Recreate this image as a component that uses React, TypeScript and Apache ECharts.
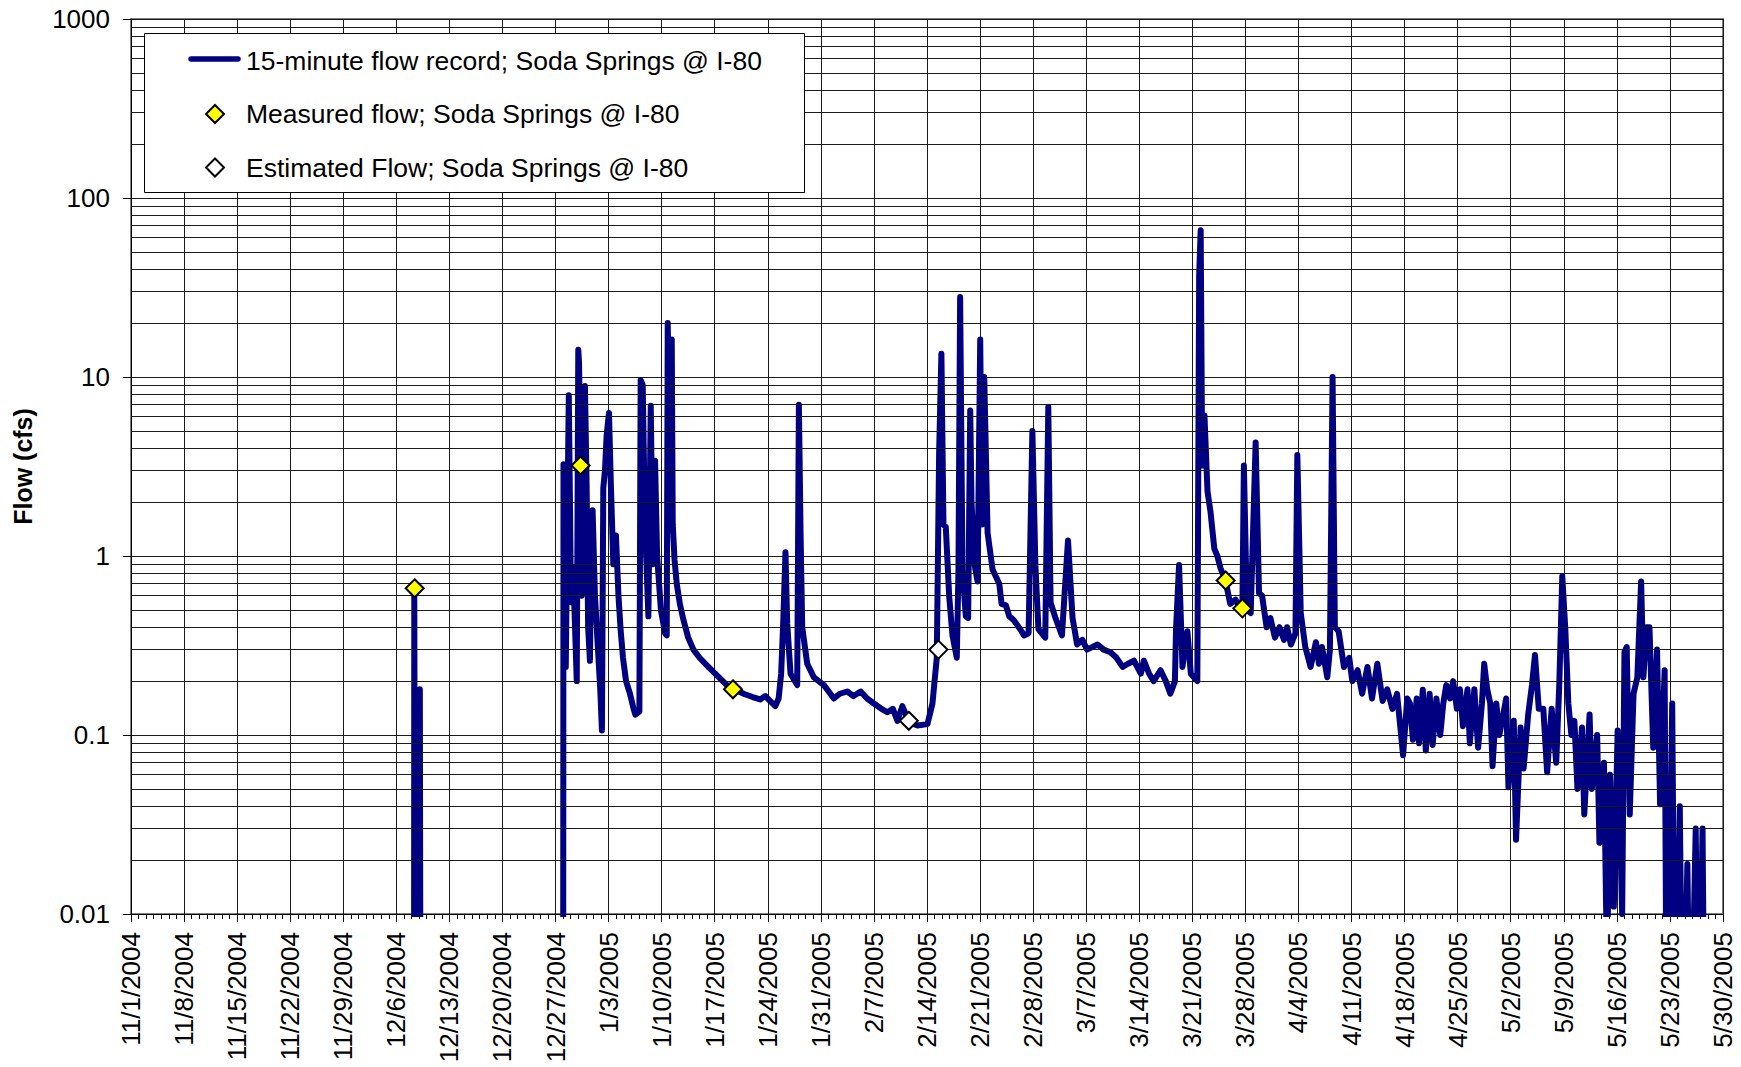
import React, { useEffect, useRef } from "react";
import * as echarts from "echarts";

// x values are days since 11/1/2004 (fractional = time of day)
const dateTickLabels = [
  "11/1/2004", "11/8/2004", "11/15/2004", "11/22/2004", "11/29/2004", "12/6/2004", "12/13/2004",
  "12/20/2004", "12/27/2004", "1/3/2005", "1/10/2005", "1/17/2005", "1/24/2005", "1/31/2005",
  "2/7/2005", "2/14/2005", "2/21/2005", "2/28/2005", "3/7/2005", "3/14/2005", "3/21/2005",
  "3/28/2005", "4/4/2005", "4/11/2005", "4/18/2005", "4/25/2005", "5/2/2005", "5/9/2005",
  "5/16/2005", "5/23/2005", "5/30/2005",
];
const flowTickLabels = ["0.01", "0.1", "1", "10", "100", "1000"];

const legendNames = [
  "15-minute flow record; Soda Springs @ I-80",
  "Measured flow; Soda Springs @ I-80",
  "Estimated Flow; Soda Springs @ I-80",
];

// 15-minute record, early December burst (values below 0.01 plot off the axis bottom)
const flowDec: [number, number][] = [
  [37.33, 0.001], [37.37, 0.66], [37.45, 0.005], [37.55, 0.045], [38.0, 0.05],
  [38.1, 0.18], [38.2, 0.001],
];

// 15-minute record from 12/28/2004 on
const flowMain: [number, number][] = [
  [57.0, 0.001], [57.05, 3.25], [57.35, 0.24], [57.75, 7.9], [58.0, 0.8], [58.11, 0.55],
  [58.33, 0.87], [58.5, 0.5], [58.8, 0.2], [59.0, 14.2], [59.1, 12], [59.3, 3.2], [59.45, 0.6],
  [59.6, 1.0], [59.88, 8.9], [60.1, 2.5], [60.3, 0.4], [60.54, 0.26], [60.7, 1.2], [60.89, 1.8],
  [61.2, 0.6], [61.6, 0.3], [61.9, 0.18], [62.12, 0.106], [62.3, 2.4], [62.52, 3.0], [62.74, 4.7],
  [63.05, 6.3], [63.3, 2.5], [63.62, 0.9], [63.8, 1.3], [63.97, 1.3], [64.3, 0.6], [64.6, 0.38],
  [64.9, 0.27], [65.3, 0.2], [65.82, 0.17], [66.3, 0.14], [66.53, 0.13], [67.06, 0.135], [67.23, 9.6],
  [67.5, 9.0], [67.8, 1.5], [68.25, 0.46], [68.56, 6.9], [68.82, 0.9], [69.13, 3.4], [69.4, 1.0],
  [69.9, 0.5], [70.45, 0.37], [70.67, 0.36], [70.8, 20], [71.0, 5], [71.33, 16.2], [71.46, 1.5],
  [71.7, 0.95], [71.99, 0.7], [72.4, 0.54], [72.87, 0.44], [73.5, 0.35], [74.19, 0.3], [75.0, 0.27],
  [75.96, 0.245], [77.06, 0.22], [78.6, 0.19], [80.8, 0.17], [82.0, 0.163], [83.0, 0.158],
  [83.67, 0.165], [84.99, 0.145], [85.43, 0.16], [85.76, 0.22],
  [86.03, 0.42], [86.33, 1.05], [86.56, 0.42], [87.0, 0.22], [87.88, 0.19], [88.1, 7.0],
  [88.32, 1.35], [88.54, 0.4], [89.2, 0.25], [90.08, 0.21], [91.4, 0.19], [92.72, 0.16],
  [93.5, 0.17], [94.48, 0.175], [95.3, 0.165], [96.25, 0.175], [97.1, 0.16], [98.0, 0.15],
  [99.0, 0.14], [99.77, 0.134], [100.5, 0.14], [101.1, 0.12], [101.75, 0.145], [102.63, 0.118],
  [103.74, 0.113], [105.06, 0.115], [105.72, 0.15], [106.29, 0.27], [106.6, 3.8], [106.9, 13.5],
  [107.17, 1.5], [107.48, 1.45], [107.92, 0.6], [108.36, 0.36], [108.93, 0.27], [109.15, 0.83],
  [109.37, 28], [109.68, 0.83], [110.12, 0.46], [110.43, 0.45], [110.7, 6.5], [110.87, 2.0],
  [111.31, 0.88], [111.67, 0.72], [112.02, 16.2], [112.24, 1.5], [112.55, 10], [112.99, 1.35],
  [113.65, 0.84], [114.53, 0.7], [114.84, 0.54], [115.41, 0.53], [115.85, 0.46], [116.4, 0.44],
  [117.3, 0.39], [117.8, 0.36], [118.4, 0.37], [118.9, 5.0], [119.3, 0.88], [119.7, 0.39],
  [120.6, 0.35], [121.0, 6.8], [121.3, 0.55], [121.95, 0.45], [122.8, 0.36], [123.6, 1.22],
  [124.2, 0.45], [124.8, 0.32], [125.5, 0.34], [126.1, 0.3], [127.5, 0.32], [128.3, 0.3],
  [129.2, 0.29], [130.0, 0.27], [130.8, 0.24], [131.5, 0.25], [132.3, 0.26], [133.2, 0.22],
  [133.6, 0.26], [134.3, 0.22], [134.9, 0.2], [135.8, 0.23], [136.5, 0.2], [137.1, 0.17],
  [137.7, 0.2], [137.85, 0.39], [138.25, 0.89], [138.7, 0.24], [139.35, 0.38], [139.8, 0.22],
  [140.66, 0.2], [140.9, 36.8], [141.1, 66], [141.3, 3.2], [141.6, 6.1], [142.0, 2.3],
  [142.4, 1.76], [142.9, 1.1], [143.3, 1.0], [143.7, 0.86], [144.4, 0.72], [145.0, 0.54],
  [145.7, 0.57], [146.4, 0.5], [146.6, 0.5], [146.8, 3.2], [147.2, 0.5], [147.7, 0.48],
  [148.35, 4.3], [148.8, 0.62], [149.2, 0.6], [149.8, 0.4], [150.3, 0.45], [150.9, 0.35],
  [151.5, 0.4], [152.1, 0.34], [152.5, 0.4], [153.0, 0.32], [153.6, 0.37], [153.85, 3.67],
  [154.3, 0.48], [154.9, 0.31], [155.6, 0.24], [156.3, 0.33], [156.7, 0.25], [157.1, 0.31],
  [157.8, 0.21], [158.15, 0.3], [158.5, 10], [158.8, 0.4], [159.3, 0.38], [160.0, 0.24],
  [160.7, 0.27], [161.1, 0.2], [161.8, 0.23], [162.4, 0.17], [163.1, 0.24], [163.7, 0.16],
  [164.4, 0.25], [165.1, 0.155], [165.7, 0.18], [166.4, 0.14], [167.0, 0.17], [167.8, 0.077],
  [168.35, 0.16], [168.7, 0.15], [169.1, 0.094], [169.6, 0.16], [169.9, 0.09], [170.4, 0.179],
  [170.8, 0.082], [171.3, 0.17], [171.7, 0.088], [172.2, 0.16], [172.7, 0.1], [173.1, 0.15],
  [173.5, 0.19], [174.0, 0.16], [174.4, 0.2], [174.9, 0.14], [175.3, 0.18], [175.7, 0.112],
  [176.3, 0.18], [176.6, 0.09], [177.2, 0.18], [177.7, 0.085], [178.2, 0.15], [178.5, 0.25],
  [178.9, 0.18], [179.3, 0.15], [179.6, 0.067], [180.1, 0.15], [180.5, 0.1], [181.4, 0.16],
  [181.7, 0.051], [182.4, 0.12], [182.7, 0.026], [183.3, 0.11], [183.7, 0.065], [184.3, 0.13],
  [184.8, 0.19], [185.2, 0.28], [185.7, 0.14], [186.3, 0.14], [186.8, 0.062], [187.4, 0.14],
  [188.0, 0.07], [188.4, 0.19], [188.8, 0.77], [189.2, 0.39], [189.6, 0.15], [190.0, 0.1],
  [190.4, 0.12], [190.8, 0.05], [191.4, 0.11], [191.7, 0.036], [192.4, 0.13], [192.7, 0.05],
  [193.4, 0.1], [193.7, 0.025], [194.3, 0.07], [194.7, 0.005], [195.1, 0.06], [195.6, 0.011],
  [196.1, 0.106], [196.7, 0.01], [197.0, 0.29], [197.3, 0.31], [197.7, 0.036], [198.2, 0.17],
  [198.7, 0.21], [199.2, 0.72], [199.5, 0.21], [199.9, 0.4], [200.3, 0.4], [200.8, 0.085],
  [201.3, 0.3], [201.7, 0.041], [202.3, 0.23], [202.6, 0.001], [203.3, 0.15], [203.7, 0.001],
  [204.3, 0.04], [204.7, 0.001], [205.3, 0.019], [205.7, 0.001], [206.4, 0.03], [206.8, 0.001],
  [207.3, 0.03], [207.6, 0.001],
];

const measuredFlow: [number, number][] = [
  [37.42, 0.66], [59.3, 3.2], [79.4, 0.18], [144.4, 0.73], [146.6, 0.51],
];
const estimatedFlow: [number, number][] = [
  [102.6, 0.12], [106.5, 0.3],
];

const FONT = '"Liberation Sans", Arial, sans-serif';
const NAVY = "#000080";
const GRID = "#1a1a1a";

export default function App() {
  const ref = useRef<HTMLDivElement>(null);

  useEffect(() => {
    if (!ref.current) return;
    const chart = echarts.init(ref.current, undefined, { renderer: "svg" });

    const minorGrid: number[] = [];
    for (let e = -2; e < 3; e++) {
      for (let k = 2; k <= 9; k++) minorGrid.push(k * Math.pow(10, e));
    }

    const lineSeries = (data: [number, number][]) => ({
      type: "line",
      data,
      showSymbol: false,
      symbol: "none",
      clip: true,
      z: 3,
      lineStyle: { color: NAVY, width: 6, join: "round", cap: "round" },
      emphasis: { disabled: true },
    });

    const lx = 144, ly = 33;
    const rows = [61, 114, 167.5];
    const diamond = (cx: number, cy: number, fill: string) => ({
      type: "polygon",
      z: 101,
      shape: { points: [[cx, cy - 9], [cx + 9, cy], [cx, cy + 9], [cx - 9, cy]] },
      style: { fill, stroke: "#000", lineWidth: 2 },
    });

    chart.setOption({
      animation: false,
      backgroundColor: "#fff",
      grid: {
        left: 131, right: 18, top: 19, bottom: 153,
        outerBoundsMode: "none",
        containLabel: false,
        show: true, borderColor: "#808080", borderWidth: 2, backgroundColor: "#fff",
      },
      xAxis: {
        type: "value",
        min: 0,
        max: 210,
        interval: 7,
        axisLine: { show: true, onZero: false, lineStyle: { color: "#000", width: 1 } },
        axisTick: { show: true, length: 8, lineStyle: { color: "#000" } },
        minorTick: { show: true, splitNumber: 7, length: 5, lineStyle: { color: "#000" } },
        splitLine: { show: true, lineStyle: { color: GRID, width: 1 } },
        axisLabel: {
          rotate: 90,
          margin: 18,
          fontSize: 26,
          color: "#000",
          fontFamily: FONT,
          showMinLabel: true,
          showMaxLabel: true,
          formatter: (v: number) => dateTickLabels[Math.round(v / 7)] ?? "",
        },
      },
      yAxis: {
        type: "log",
        logBase: 10,
        min: 0.01,
        max: 1000,
        name: "Flow (cfs)",
        nameLocation: "middle",
        nameGap: 96,
        nameTextStyle: { fontSize: 25, fontWeight: "bold", color: "#000", fontFamily: FONT },
        axisLine: { show: true, lineStyle: { color: "#000", width: 1 } },
        axisTick: { show: true, length: 8, lineStyle: { color: "#000" } },
        splitLine: { show: true, lineStyle: { color: GRID, width: 1 } },
        axisLabel: {
          margin: 21,
          fontSize: 26,
          color: "#000",
          fontFamily: FONT,
          formatter: (v: number) => flowTickLabels[Math.round(Math.log10(v)) + 2] ?? "",
        },
      },
      series: [
        {
          type: "line",
          data: [],
          z: 1,
          silent: true,
          markLine: {
            silent: true,
            symbol: ["none", "none"],
            label: { show: false },
            emphasis: { disabled: true },
            lineStyle: { color: GRID, width: 1, type: "solid" },
            data: minorGrid.map((v) => ({ yAxis: v })),
          },
        },
        { name: legendNames[0], ...lineSeries(flowDec) },
        { name: legendNames[0], ...lineSeries(flowMain) },
        {
          name: legendNames[1],
          type: "scatter",
          data: measuredFlow,
          symbol: "diamond",
          symbolSize: 18,
          z: 5,
          itemStyle: { color: "#ffff00", borderColor: "#000", borderWidth: 2, opacity: 1 },
        },
        {
          name: legendNames[2],
          type: "scatter",
          data: estimatedFlow,
          symbol: "diamond",
          symbolSize: 18,
          z: 5,
          itemStyle: { color: "#ffffff", borderColor: "#000", borderWidth: 2, opacity: 1 },
        },
      ],
      graphic: [
        {
          type: "rect",
          z: 100,
          shape: { x: lx + 0.5, y: ly + 0.5, width: 660, height: 159 },
          style: { fill: "#fff", stroke: "#000", lineWidth: 1 },
        },
        {
          type: "line",
          z: 101,
          shape: { x1: 191, y1: rows[0] - 2, x2: 238, y2: rows[0] - 2 },
          style: { stroke: NAVY, lineWidth: 5.5, lineCap: "round" },
        },
        diamond(215, rows[1], "#ffff00"),
        diamond(215, rows[2], "#ffffff"),
        ...legendNames.map((t, i) => ({
          type: "text",
          z: 101,
          x: 246,
          y: rows[i],
          style: {
            text: t,
            fill: "#000",
            font: `26.5px ${FONT}`,
            textVerticalAlign: "middle",
            verticalAlign: "middle",
          },
        })),
      ],
    });

    return () => chart.dispose();
  }, []);

  return (
    <div
      ref={ref}
      style={{ position: "fixed", left: 0, top: 0, width: 1741, height: 1067 }}
    />
  );
}
